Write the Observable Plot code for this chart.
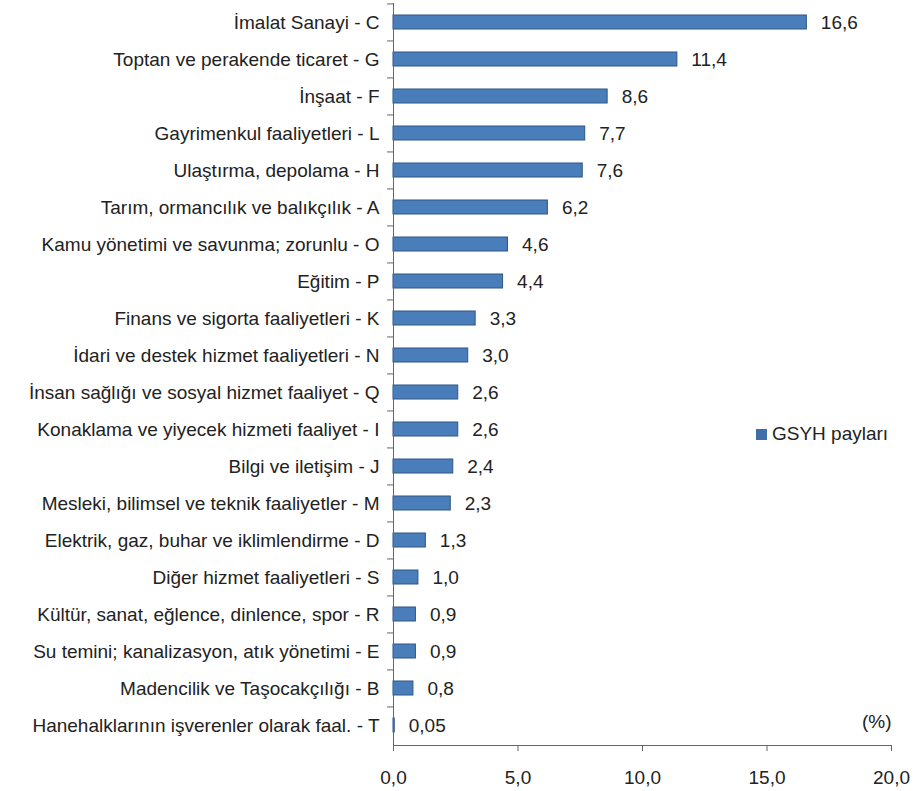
<!DOCTYPE html>
<html>
<head>
<meta charset="utf-8">
<script src="https://cdn.jsdelivr.net/npm/d3@7"></script>
<script src="https://cdn.jsdelivr.net/npm/@observablehq/plot@0.6"></script>
<style>
  body { margin: 0; background: #fff; }
  #wrap { position: relative; width: 917px; height: 791px; font-family: "Liberation Sans", Arial, sans-serif; }
  #legend { position: absolute; left: 756px; top: 423px; font-size: 19px; color: #222; display: flex; align-items: center; white-space: nowrap; }
  #legend .sw { width: 11px; height: 11px; background: #3f6fa8; margin-right: 5px; }
</style>
</head>
<body>
<div id="wrap"><div id="legend"><span class="sw"></span><span>GSYH payları</span></div></div>
<script>
const categories = [
  "İmalat Sanayi - C",
  "Toptan ve perakende ticaret - G",
  "İnşaat - F",
  "Gayrimenkul faaliyetleri - L",
  "Ulaştırma, depolama - H",
  "Tarım, ormancılık ve balıkçılık - A",
  "Kamu yönetimi ve savunma; zorunlu - O",
  "Eğitim - P",
  "Finans ve sigorta faaliyetleri - K",
  "İdari ve destek hizmet faaliyetleri - N",
  "İnsan sağlığı ve sosyal hizmet faaliyet - Q",
  "Konaklama ve yiyecek hizmeti faaliyet - I",
  "Bilgi ve iletişim - J",
  "Mesleki, bilimsel ve teknik faaliyetler - M",
  "Elektrik, gaz, buhar ve iklimlendirme - D",
  "Diğer hizmet faaliyetleri - S",
  "Kültür, sanat, eğlence, dinlence, spor - R",
  "Su temini; kanalizasyon, atık yönetimi - E",
  "Madencilik ve Taşocakçılığı - B",
  "Hanehalklarının işverenler olarak faal. - T"
];
const values = [16.6, 11.4, 8.6, 7.7, 7.6, 6.2, 4.6, 4.4, 3.3, 3.0, 2.6, 2.6, 2.4, 2.3, 1.3, 1.0, 0.9, 0.9, 0.8, 0.05];
const xTicks = [0, 5, 10, 15, 20];
const unitLabel = "(%)";

const data = categories.map((c, i) => ({category: c, value: values[i]}));
const fmt = v => v.toFixed(v < 0.1 ? 2 : 1).replace(".", ",");

const W = 917, H = 791, mT = 3, mB = 46, mL = 393, mR = 26;
const step = (H - mT - mB) / categories.length;

const chart = Plot.plot({
  width: W,
  height: H,
  marginTop: mT,
  marginBottom: mB,
  marginLeft: mL,
  marginRight: mR,
  style: {fontFamily: "'Liberation Sans', Arial, sans-serif", fontSize: "19px", color: "#222", background: "#fff"},
  x: {domain: [0, 20]},
  y: {domain: categories, paddingInner: 0.62, paddingOuter: 0.31},
  marks: [
    Plot.barX(data, {x: "value", y: "category", fill: "#4a7ebb", stroke: "#2c5585", strokeWidth: 1}),
    Plot.text(data, {x: "value", y: "category", text: d => fmt(d.value), textAnchor: "start", dx: 14, fontSize: 19, fill: "#222"}),
    Plot.ruleY(categories, {y: d => d, x1: -0.24, x2: 0, dy: -step / 2, stroke: "#666"}),
    Plot.ruleX([0], {stroke: "#666"}),
    Plot.frame({anchor: "bottom", stroke: "#666"}),
    Plot.axisX({ticks: xTicks, tickFormat: d => d.toFixed(1).replace(".", ","), tickSize: 6, tickPadding: 19, stroke: "#666", fill: "#222", label: null, fontSize: 19}),
    Plot.axisY({tickSize: 0, tickPadding: 14, label: null, fill: "#222", fontSize: 19}),
    Plot.text([unitLabel], {x: 20, y: [categories[categories.length - 1]], text: d => d, textAnchor: "end", dy: -4, fontSize: 19, fill: "#222"})
  ]
});
document.getElementById("wrap").prepend(chart);
</script>
</body>
</html>
